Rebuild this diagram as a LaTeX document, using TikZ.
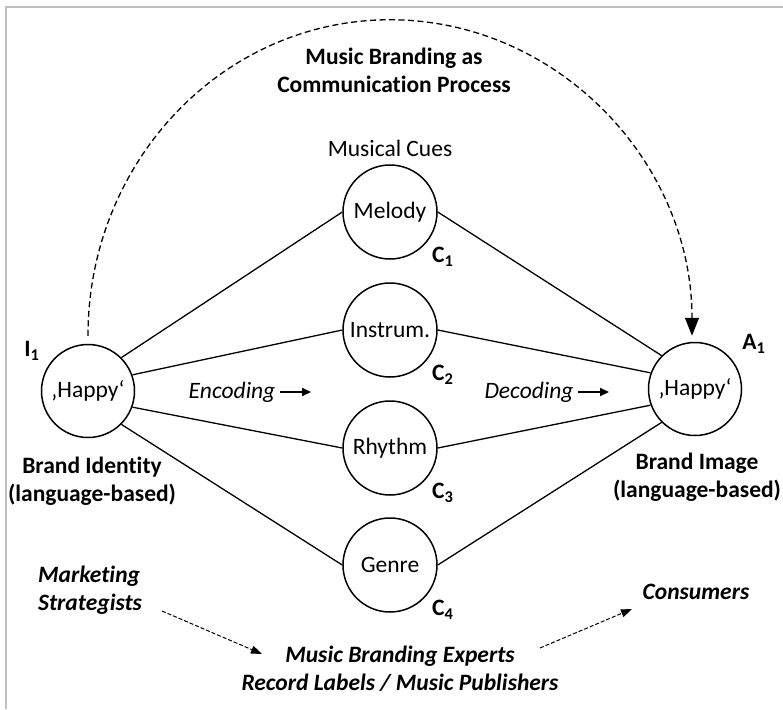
\documentclass[tikz,border=0pt]{standalone}
\usepackage{fontspec}
\setmainfont{Carlito}[Ligatures=NoCommon]
\usetikzlibrary{arrows.meta, calc, positioning}

\tikzset{
  idea/.style={circle, draw, line width=1.5pt, inner sep=0pt, minimum size=93pt},
  cue/.style={circle, draw, line width=1.5pt, inner sep=0pt, minimum size=94pt},
  link/.style={line width=1.3pt},
  tag/.style={font=\bfseries, inner sep=0pt},
  cuetag/.style={font=\bfseries, inner sep=0pt, label distance=7pt},
  codearrow/.style={line width=2pt, -{Triangle[length=9pt,width=8pt]}},
  arcflow/.style={line width=1.3pt, dash pattern=on 6pt off 3.5pt, -{Triangle[length=18pt,width=14pt]}},
  flow/.style={line width=1pt, dash pattern=on 4pt off 2pt, -{Triangle[length=11pt,width=8pt]}},
}

\begin{document}
\fontsize{23.5}{28}\selectfont
\begin{tikzpicture}[x=1pt, y=-1pt]
    \useasboundingbox (0,0) rectangle (783,709);
    \draw[black!25, line width=2pt] (6,709) -- (6,7) -- (783,7);

    % identity, image and musical cues
    \node[idea] (id) at (88,391) {‚Happy‘};
    \node[idea] (im) at (695,389) {‚Happy‘};
    \node[cue, label={[cuetag]-40:C\textsubscript{1}}] (c1) at (390,212) {Melody};
    \node[cue, label={[cuetag]-40:C\textsubscript{2}}] (c2) at (390,330) {Instrum.};
    \node[cue, label={[cuetag]-40:C\textsubscript{3}}] (c3) at (390,448) {Rhythm};
    \node[cue, label={[cuetag]-40:C\textsubscript{4}}] (c4) at (390,565) {Genre};

    \foreach \c/\a/\b in {c1/45/135, c2/20/160, c3/-20/200, c4/-45/225} {
        \draw[link] (id.\a) -- (\c.west);
        \draw[link] (\c.east) -- (im.\b);
    }

    \node[tag] (i1) at (32,351) {I\textsubscript{1}};
    \node[tag] (a1) at (754,344) {A\textsubscript{1}};

    \node[tag, align=center] (title) at (394,70) {Music Branding as\\Communication Process};
    \node (cues) at (390,148) {Musical Cues};
    \node[tag, align=center] (bid) at (92,481) {Brand Identity\\(language-based)};
    \node[tag, align=center] (bim) at (697,477) {Brand Image\\(language-based)};

    % encoding / decoding
    \node[font=\itshape, inner sep=0pt] (enc) at (232,392) {Encoding};
    \node[font=\itshape, inner sep=0pt] (dec) at (529,392) {Decoding};
    \coordinate (enc-a) at (280,392);
    \coordinate (enc-b) at (311,392);
    \coordinate (dec-a) at (578,392);
    \coordinate (dec-b) at (609,392);
    \draw[codearrow] (enc-a) -- (enc-b);
    \draw[codearrow] (dec-a) -- (dec-b);

    % communication arc
    \draw[arcflow] ($(id.north)+(0,-8)$) arc[start angle=180, end angle=360, x radius=302, y radius=316];

    % actors
    \node[font=\bfseries\itshape, align=left, inner sep=0pt] (strat) at (90,590) {Marketing\\Strategists};
    \node[font=\bfseries\itshape, align=center, inner sep=0pt] (expert) at (400,669) {Music Branding Experts\\Record Labels / Music Publishers};
    \node[font=\bfseries\itshape, inner sep=0pt] (cons) at (696,592) {Consumers};
    \coordinate (strat-a) at (162,611);
    \coordinate (strat-b) at (262,654);
    \coordinate (cons-a) at (540,648);
    \coordinate (cons-b) at (632,609);
    \draw[flow] (strat-a) -- (strat-b);
    \draw[flow] (cons-a) -- (cons-b);
\end{tikzpicture}
\end{document}
